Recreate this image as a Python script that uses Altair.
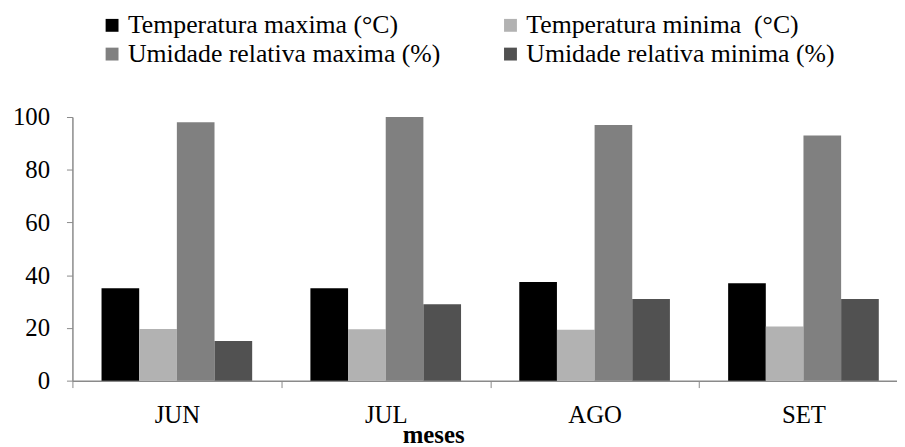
import altair as alt
import pandas as pd

months = ["JUN", "JUL", "AGO", "SET"]
series = [
    "Temperatura maxima (°C)",
    "Temperatura minima\u00a0 (°C)",
    "Umidade relativa maxima (%)",
    "Umidade relativa minima (%)",
]
temp_max = [35.0, 35.0, 37.4, 36.9]
temp_min = [19.6, 19.5, 19.3, 20.5]
ur_max = [98.0, 100.0, 97.0, 93.0]
ur_min = [15.0, 29.0, 31.0, 31.0]
colors = ["#000000", "#b2b2b2", "#808080", "#515151"]
y_ticks = [0, 20, 40, 60, 80, 100]

rows = []
for i, m in enumerate(months):
    for s, vals in zip(series, [temp_max, temp_min, ur_max, ur_min]):
        rows.append({"mes": m, "serie": s, "valor": vals[i]})
df = pd.DataFrame(rows)

FONT = "Liberation Serif"
AXIS_GREY = "#8a8a8a"

chart = alt.Chart(df).mark_bar().encode(
    x=alt.X(
        "mes:N",
        sort=months,
        scale=alt.Scale(paddingInner=0, paddingOuter=0, range=[0, 843]),
        axis=alt.Axis(
            title="meses",
            labelAngle=0,
            tickBand="extent",
            tickSize=7,
            tickColor=AXIS_GREY,
            domainColor=AXIS_GREY,
            domainWidth=1.5,
            labelFont=FONT,
            labelFontSize=25,
            labelColor="#000000",
            labelPadding=15,
            titleFont=FONT,
            titleFontSize=25,
            titleFontWeight="bold",
            titleColor="#000000",
            titleX=364,
            titleY=62,
            titleAlign="center",
            titleBaseline="alphabetic",
        ),
    ),
    xOffset=alt.XOffset(
        "serie:N",
        sort=series,
        scale=alt.Scale(paddingInner=0, paddingOuter=0.773),
    ),
    y=alt.Y(
        "valor:Q",
        scale=alt.Scale(domain=[0, 100], nice=False),
        axis=alt.Axis(
            values=y_ticks,
            title=None,
            grid=False,
            tickSize=6,
            tickColor=AXIS_GREY,
            domainColor=AXIS_GREY,
            domainWidth=1.5,
            labelFont=FONT,
            labelFontSize=25,
            labelColor="#000000",
            labelPadding=17,
        ),
    ),
    color=alt.Color(
        "serie:N",
        sort=series,
        scale=alt.Scale(domain=series, range=colors),
        legend=alt.Legend(
            title=None,
            orient="none",
            legendX=27,
            legendY=-105.5,
            columns=2,
            direction="horizontal",
            symbolType="square",
            symbolSize=169,
            symbolStrokeWidth=0,
            labelFont=FONT,
            labelFontSize=26,
            labelColor="#000000",
            labelOffset=3,
            labelLimit=600,
            columnPadding=57,
            rowPadding=3,
            padding=0,
        ),
    ),
).properties(
    width=832,
    height=266,
    autosize=alt.AutoSizeParams(type="none"),
    padding={"left": 65, "top": 108, "right": 0, "bottom": 70},
).configure(
    font=FONT,
).configure_axis(
    labelFont=FONT,
    titleFont=FONT,
).configure_legend(
    labelFont=FONT,
    titleFont=FONT,
).configure_view(stroke=None)

chart.save("out.html", embed_options={"renderer": "svg", "actions": False})
